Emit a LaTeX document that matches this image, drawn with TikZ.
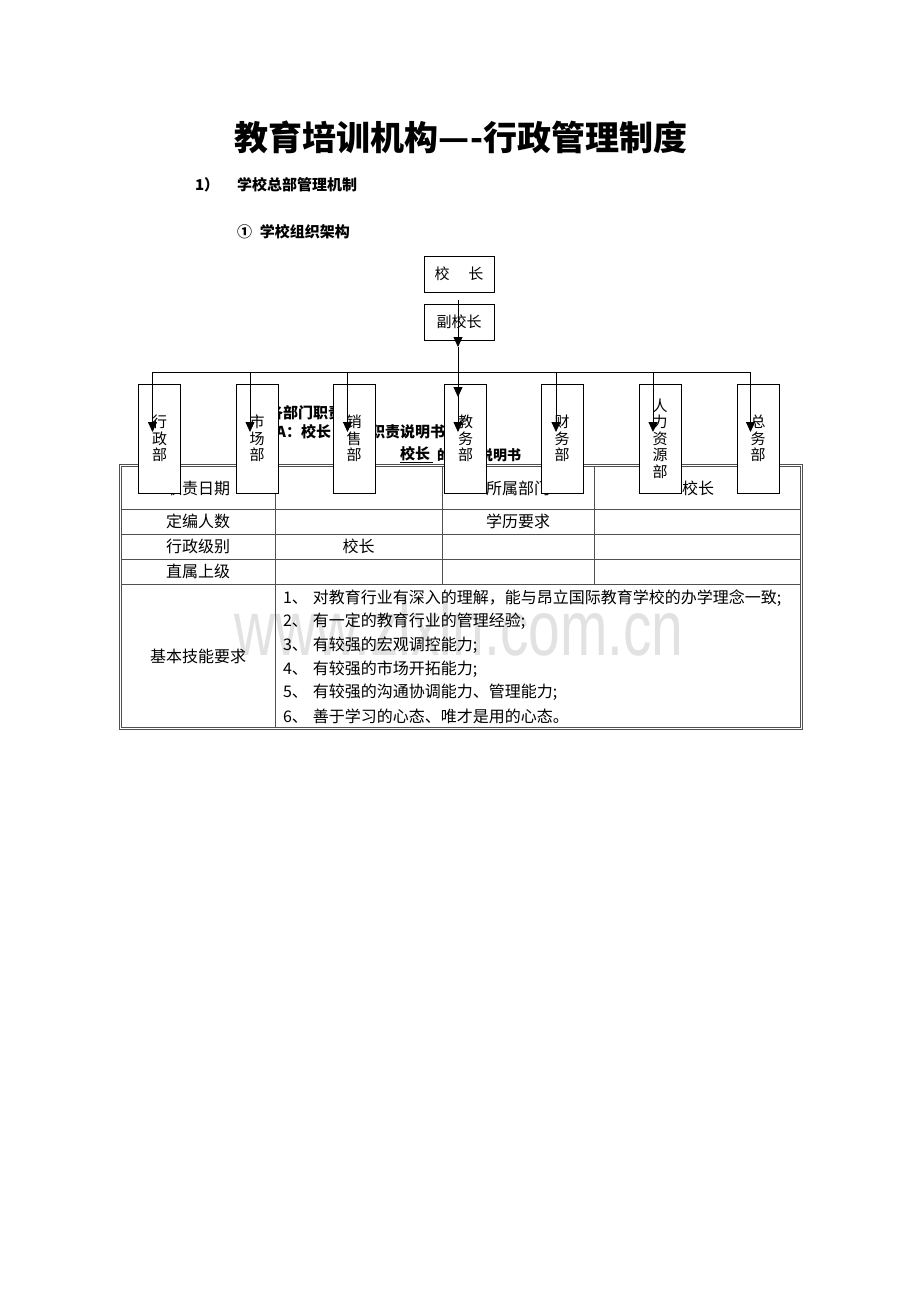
\documentclass[tikz,border=0pt]{standalone}
\usepackage{fontspec}
\setmainfont{Noto Sans CJK SC}
\newfontfamily\wmfont{Liberation Sans}
\usepackage{tikz}
\usetikzlibrary{arrows.meta}
\definecolor{wmgray}{RGB}{226,226,226}
\definecolor{rulegray}{RGB}{80,80,80}
\tikzset{
    tnode/.style = {inner sep=0pt, outer sep=0pt},
    head_node/.style = {tnode, font=\fontsize{15}{18}\selectfont\bfseries},
    cell_node/.style = {tnode, font=\fontsize{16}{19}\selectfont},
    item_node/.style = {tnode, anchor=west, font=\fontsize{16}{19}\selectfont},
    top_node/.style = {draw=black, fill=white, line width=0.9pt, minimum width=70pt, minimum height=36pt, inner sep=0pt, font=\fontsize{15}{18}\selectfont},
    dept_node/.style = {draw=black, fill=white, line width=0.9pt, minimum width=42pt, minimum height=109pt, inner sep=0pt, align=center, font=\fontsize{15}{16.5}\selectfont},
    link/.style = {-{Triangle[width=9pt,length=10pt]}, line width=0.8pt}
}
\begin{document}
\begin{tikzpicture}[x=1pt, y=-1pt]
    \fill[white] (0,0) rectangle (920,1302);
    \useasboundingbox (0,0) rectangle (920,1302);
    % watermark
    \node[tnode, wmgray, font=\wmfont\fontsize{78}{80}\selectfont, xscale=0.73, anchor=base] (wmark) at (459,655) {www.zlxln.com.cn};
    % headings
    \node[head_node, font=\fontsize{34}{40}\selectfont\bfseries] (title) at (461,137) {教育培训机构—-行政管理制度};
    \node[head_node, anchor=west] (num1) at (195,185) {1）};
    \node[head_node, anchor=west] (sec1) at (237,185) {学校总部管理机制};
    \node[head_node, anchor=west] (sub1) at (237,232) {①\hspace{8pt}学校组织架构};
    \node[head_node, anchor=west] (part2) at (238,413) {二、各部门职责};
    \node[head_node, anchor=east] (partA) at (331,432) {A：校长};
    \node[head_node, anchor=east] (partB) at (445,432) {的职责说明书};
    \node[head_node, anchor=west] (partC) at (400,455) {\underline{校长\ }};
    \node[head_node, font=\fontsize{14}{17}\selectfont\bfseries, anchor=east] (partD) at (521,455) {的职责说明书};
    % table
    \draw[rulegray, line width=0.6pt, double, double distance=1.6pt] (120.5,465.5) rectangle (801.5,728.5);
    \foreach \y in {509,534,559,584}
        \draw[rulegray, line width=0.6pt] (122,\y) -- (800,\y);
    \draw[rulegray, line width=0.6pt] (275,467) -- (275,727);
    \foreach \x in {442,594}
        \draw[rulegray, line width=0.6pt] (\x,467) -- (\x,584);
    \node[cell_node] (c11) at (198,488) {职责日期};
    \node[cell_node] (c13) at (518,488) {所属部门};
    \node[cell_node] (c14) at (698,488) {校长};
    \node[cell_node] (c21) at (198,521.5) {定编人数};
    \node[cell_node] (c23) at (518,521.5) {学历要求};
    \node[cell_node] (c31) at (198,546.5) {行政级别};
    \node[cell_node] (c32) at (358.5,546.5) {校长};
    \node[cell_node] (c41) at (198,571.5) {直属上级};
    \node[cell_node] (c51) at (198,656) {基本技能要求};
    \foreach \txt [count=\i] in {对教育行业有深入的理解，能与昂立国际教育学校的办学理念一致;, 有一定的教育行业的管理经验;, 有较强的宏观调控能力;, 有较强的市场开拓能力;, 有较强的沟通协调能力、管理能力;, 善于学习的心态、唯才是用的心态。}
        \node[item_node] (item\i) at (283,{574.4+23.6*\i}) {\i、\hspace{5pt}\txt};
    % org chart
    \node[top_node] (head) at (459,274) {校\hspace{19pt}长};
    \node[top_node] (vice) at (459,322) {副校长};
    \foreach \lbl/\cx/\lx [count=\i] in {行\\政\\部/159.5/152.5, 市\\场\\部/257/250, 销\\售\\部/354/347.5, 教\\务\\部/465.5/458, 财\\务\\部/562/556, 人\\力\\资\\源\\部/660/653, 总\\务\\部/758/750.5} {
        \node[dept_node] (dept\i) at (\cx,438.5) {\lbl};
        \coordinate (drop\i) at (\lx,372);
        \coordinate (tip\i) at (\lx,432);
    }
    \coordinate (headout) at (458,300);
    \coordinate (viceout) at (458,347);
    \coordinate (eduin) at (458,397);
    \draw[link] (headout) -- (viceout);
    \draw[link] (viceout) -- (eduin);
    \draw[line width=0.8pt] (drop1) -- (drop7);
    \foreach \i in {1,...,7}
        \draw[link] (drop\i) -- (tip\i);
\end{tikzpicture}
\end{document}
